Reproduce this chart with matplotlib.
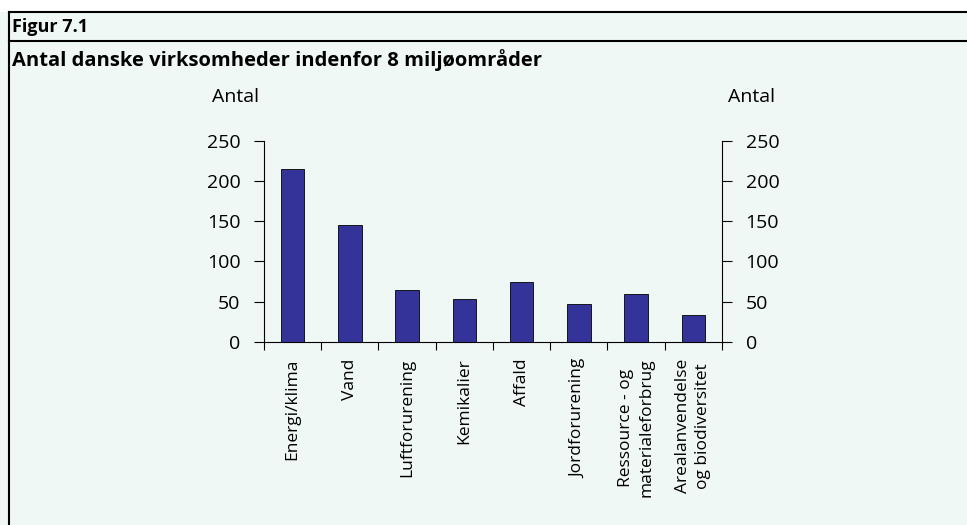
import matplotlib
matplotlib.use("Agg")
import matplotlib.pyplot as plt
from matplotlib.lines import Line2D
from matplotlib.patches import Rectangle

plt.rcParams['font.family'] = ['Open Sans', 'DejaVu Sans']

# Data
categories = ["Energi/klima", "Vand", "Luftforurening", "Kemikalier", "Affald",
              "Jordforurening", "Ressource - og\nmaterialeforbrug",
              "Arealanvendelse\nog biodiversitet"]
antal = [215, 145, 65, 54, 75, 47, 60, 33]
yticks = [0, 50, 100, 150, 200, 250]

bg = "#eff8f5"
fig = plt.figure(figsize=(9.67, 5.25), dpi=100, facecolor=bg)

# white strip above the top rule
fig.add_artist(Rectangle((0, 0.978), 1, 0.022, transform=fig.transFigure,
                         facecolor="white", edgecolor="none", zorder=0))
# frame rules
fig.add_artist(Line2D([0.0088, 1], [0.978, 0.978], transform=fig.transFigure, color="black", lw=1.5))
fig.add_artist(Line2D([0.0088, 1], [0.922, 0.922], transform=fig.transFigure, color="black", lw=1.5))
fig.add_artist(Line2D([0.0088, 0.0088], [0, 0.978], transform=fig.transFigure, color="black", lw=1.5))

fig.text(0.012, 0.948, "Figur 7.1", fontsize=13, fontweight="bold", va="center", ha="left")
fig.text(0.012, 0.886, "Antal danske virksomheder indenfor 8 miljøområder",
         fontsize=14.5, fontweight="bold", va="center", ha="left")

ax = fig.add_axes([0.273, 0.3486, 0.4736, 0.3834])
ax.set_facecolor(bg)
x = range(len(categories))
ax.bar(x, antal, width=0.41, color="#333399", edgecolor="black", linewidth=0.6)

ax.set_xlim(-0.5, len(categories) - 0.5)
ax.set_ylim(0, 250)
ax.set_yticks(yticks)
ax.yaxis.set_ticks_position("both")
ax.tick_params(axis="y", direction="out", length=7, width=0.8, pad=10,
               labelsize=14, labelright=True)

ax.set_xticks(list(x))
ax.set_xticklabels(categories, rotation=90, fontsize=12.5, va="top", linespacing=1.35)
ax.tick_params(axis="x", which="major", length=0, pad=12)
ax.set_xticks([i - 0.5 for i in range(len(categories) + 1)], minor=True)
ax.tick_params(axis="x", which="minor", direction="out", length=6, width=0.8)

ax.spines["top"].set_visible(False)
for s in ["left", "right", "bottom"]:
    ax.spines[s].set_linewidth(0.8)

fig.text(236 / 967, 1 - 97 / 525, "Antal", fontsize=14, ha="center", va="center")
fig.text(752 / 967, 1 - 97 / 525, "Antal", fontsize=14, ha="center", va="center")

fig.savefig("out.png", dpi=100, facecolor=bg)
